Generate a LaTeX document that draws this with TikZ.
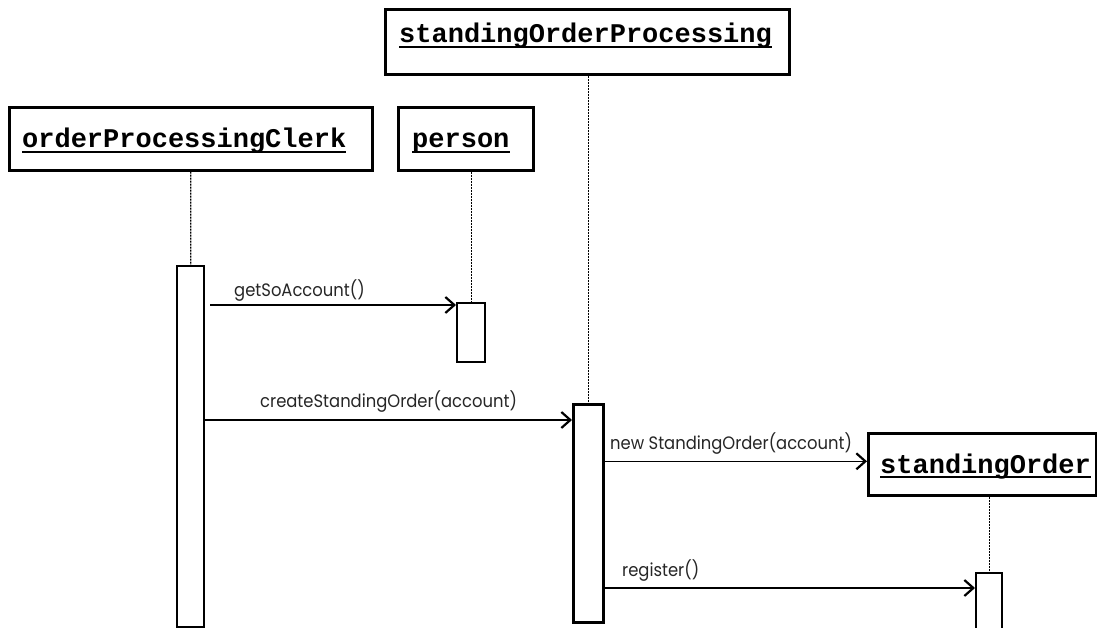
\documentclass[tikz,border=0pt]{standalone}
\usepackage{fontspec}
\setmainfont{Liberation Sans}
\newfontfamily\headfont{Liberation Mono}
\newfontfamily\msgfont{Poppins}[FakeStretch=0.91]
\usetikzlibrary{arrows.meta,calc}

\begin{document}
\begin{tikzpicture}[x=1pt,y=-1pt,
  objbox/.style={draw, line width=2.6pt, inner sep=0pt, fill=white},
  actbar/.style={draw, line width=2.4pt, inner sep=0pt, fill=white},
  headtext/.style={inner sep=0pt, anchor=base west,
    font=\headfont\bfseries\fontsize{27}{30}\selectfont},
  uline/.style={line width=1.8pt},
  lifeline/.style={line width=1.3pt, dash pattern=on 2pt off 1pt},
  msg/.style={line width=1.4pt,
    -{Straight Barb[length=9pt,width=16pt,line width=2.2pt]}},
  msglabel/.style={inner sep=0pt, anchor=base west, text=black!85,
    font=\msgfont\fontsize{18}{21}\selectfont}
]
\useasboundingbox (0,0) rectangle (1097,628);

% object heads
\node[objbox, anchor=north west, minimum width=363pt, minimum height=63pt] (clerk) at (8,106) {};
\node[objbox, anchor=north west, minimum width=135pt, minimum height=63pt] (person) at (397,106) {};
\node[objbox, anchor=north west, minimum width=404pt, minimum height=65pt] (sop) at (384,8) {};
\node[objbox, anchor=north west, minimum width=228pt, minimum height=62pt] (so) at (867,432) {};

\node[headtext] (clerkname) at (22,148) {orderProcessingClerk};
\node[headtext] (personname) at (412,148) {person};
\node[headtext] (sopname) at (399,43) {standingOrderProcessing};
\node[headtext] (soname) at (880,473) {standingOrder};
\foreach \n in {clerkname,personname,sopname,soname}
  \draw[uline] ([yshift=-4pt]\n.base west) -- ([yshift=-4pt]\n.base east);

% activation bars
\node[actbar, anchor=north west, minimum width=27pt, minimum height=361pt] (clerkbar) at (176,265) {};
\node[actbar, anchor=north west, minimum width=28pt, minimum height=59pt] (personbar) at (456,302) {};
\node[actbar, line width=3.4pt, anchor=north west, minimum width=30pt, minimum height=218pt] (sopbar) at (572,403) {};
\node[actbar, anchor=north west, minimum width=26pt, minimum height=80pt] (sobar) at (975,572) {};

% lifelines
\draw[lifeline] (clerk.south) -- (clerkbar.north);
\draw[lifeline] (personbar.north |- person.south) -- (personbar.north);
\draw[lifeline] (sopbar.north |- sop.south) -- (sopbar.north);
\draw[lifeline] (sobar.north |- so.south) -- (sobar.north);

% messages
\coordinate (m1) at ($(personbar.north west)+(0,3)$);
\coordinate (m2) at ($(sopbar.north west)+(0,17)$);
\coordinate (m3) at ($(so.west)+(0,-3)$);
\coordinate (m4) at ($(sobar.north west)+(0,16)$);
\draw[msg] ($(clerkbar.east |- m1)+(5,0)$) -- (m1);
\draw[msg] (clerkbar.east |- m2) -- (m2);
\draw[msg] (sopbar.east |- m3) -- (m3);
\draw[msg] (sopbar.east |- m4) -- (m4);

\node[msglabel] (l1) at (234,296) {getSoAccount()};
\node[msglabel] (l2) at (260,407) {createStandingOrder(account)};
\node[msglabel] (l3) at (610,449) {new StandingOrder(account)};
\node[msglabel] (l4) at (622,576) {register()};
\end{tikzpicture}
\end{document}
